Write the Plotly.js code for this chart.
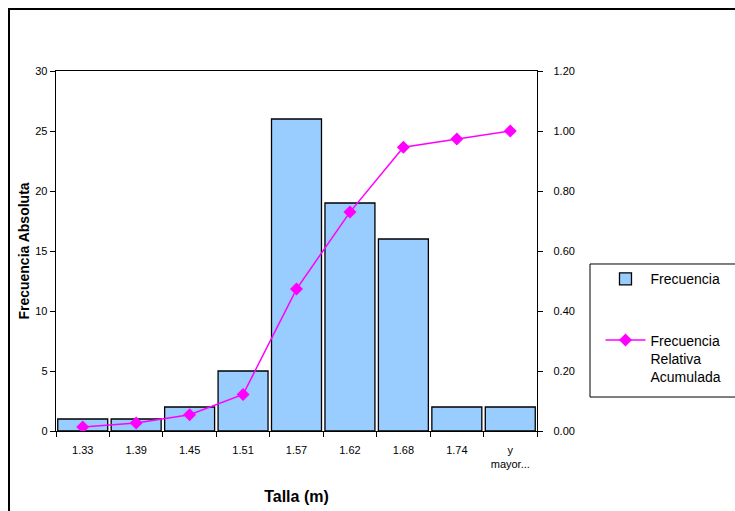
<!DOCTYPE html>
<html>
<head>
<meta charset="utf-8">
<script src="https://cdn.plot.ly/plotly-3.0.1.min.js"></script>
<style>
  html, body { margin: 0; padding: 0; background: #fff; }
  #chart { width: 735px; height: 511px; }
</style>
</head>
<body>
<div id="chart"></div>
<script>
// Height classes (m) and their absolute frequencies
const clases = ["1.33", "1.39", "1.45", "1.51", "1.57", "1.62", "1.68", "1.74", "y<br>mayor..."];
const frecuencia = [1, 1, 2, 5, 26, 19, 16, 2, 2];
// Cumulative relative frequency
const frecRelAcum = [0.0135, 0.0270, 0.0541, 0.1216, 0.4730, 0.7297, 0.9459, 0.9730, 1.0000];

const tickFont = { family: "Liberation Sans, Arial, sans-serif", size: 11, color: "#000" };

const barras = {
  type: "bar",
  name: "Frecuencia",
  x: clases,
  y: frecuencia,
  marker: { color: "#99CCFF", line: { color: "#000", width: 1.3 } },
  legendgroup: "a",
  hoverinfo: "x+y"
};

const acumulada = {
  type: "scatter",
  mode: "lines+markers",
  name: "Frecuencia<br>Relativa<br>Acumulada",
  x: clases,
  y: frecRelAcum,
  yaxis: "y2",
  line: { color: "#FF00FF", width: 1.5 },
  marker: { symbol: "diamond", size: 10, color: "#FF00FF" },
  legendgroup: "b"
};

const layout = {
  width: 735,
  height: 511,
  margin: { l: 56, r: 198, t: 71, b: 80, autoexpand: false },
  paper_bgcolor: "#fff",
  plot_bgcolor: "#fff",
  font: { family: "Liberation Sans, Arial, sans-serif", color: "#000" },
  bargap: 0.065,
  showlegend: true,
  xaxis: {
    type: "category",
    range: [-0.5, clases.length - 0.5],
    tickson: "boundaries",
    ticks: "outside",
    ticklen: 5,
    tickcolor: "#000",
    ticklabelstandoff: 8,
    showline: true,
    linecolor: "#000",
    linewidth: 1.3,
    mirror: true,
    showgrid: false,
    tickfont: tickFont,
    title: { text: "<b>Talla (m)</b>", font: { size: 16, color: "#000" }, standoff: 22 },
    fixedrange: true
  },
  yaxis: {
    range: [0, 30],
    dtick: 5,
    ticks: "outside",
    ticklen: 5,
    tickcolor: "#000",
    showline: true,
    linecolor: "#000",
    linewidth: 1.3,
    showgrid: false,
    zeroline: false,
    tickfont: tickFont,
    title: { text: "<b>Frecuencia Absoluta</b>", font: { size: 14, color: "#000" }, standoff: 2 },
    fixedrange: true
  },
  yaxis2: {
    overlaying: "y",
    side: "right",
    range: [0, 1.2],
    dtick: 0.2,
    tickformat: ".2f",
    ticks: "outside",
    ticklen: 5,
    tickcolor: "#000",
    ticklabelstandoff: 8,
    showline: true,
    linecolor: "#000",
    linewidth: 1.3,
    showgrid: false,
    zeroline: false,
    tickfont: tickFont,
    fixedrange: true
  },
  legend: {
    x: 1.132,
    y: 0.466,
    xanchor: "left",
    yanchor: "top",
    bgcolor: "rgba(0,0,0,0)",
    borderwidth: 0,
    traceorder: "grouped",
    tracegroupgap: 40,
    itemwidth: 40,
    valign: "top",
    font: { family: "Liberation Sans, Arial, sans-serif", size: 14, color: "#000" }
  },
  shapes: [
    // outer chart frame
    {
      type: "rect",
      xref: "paper", yref: "paper",
      x0: -0.0977, x1: 1.6,
      y0: -0.3, y1: 1.172,
      line: { color: "#000", width: 2 },
      fillcolor: "rgba(0,0,0,0)",
      layer: "below"
    },
    // legend box
    {
      type: "rect",
      xref: "paper", yref: "paper",
      x0: 1.1102, x1: 1.5,
      y0: 0.0944, y1: 0.4639,
      line: { color: "#000", width: 1 },
      fillcolor: "#fff",
      layer: "below"
    }
  ]
};

Plotly.newPlot("chart", [barras, acumulada], layout, { displayModeBar: false, staticPlot: true });
</script>
</body>
</html>
